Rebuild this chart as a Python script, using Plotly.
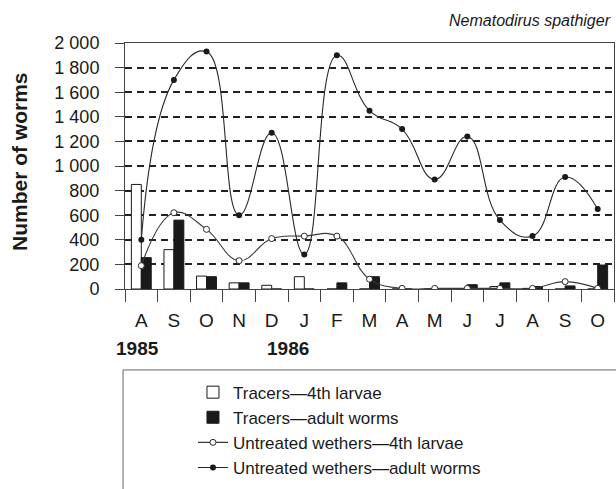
import plotly.graph_objects as go

categories = ["Aug 1985", "Sep 1985", "Oct 1985", "Nov 1985", "Dec 1985", "Jan 1986",
              "Feb 1986", "Mar 1986", "Apr 1986", "May 1986", "Jun 1986", "Jul 1986",
              "Aug 1986", "Sep 1986", "Oct 1986"]
month_labels = ["A", "S", "O", "N", "D", "J", "F", "M", "A", "M", "J", "J", "A", "S", "O"]

tracers_l4 = [850, 320, 105, 50, 30, 100, 0, 0, 0, 0, 0, 20, 5, 0, 0]
tracers_adult = [255, 560, 100, 50, 0, 0, 50, 100, 0, 0, 35, 50, 20, 25, 195]
untreated_l4 = [190, 620, 485, 230, 410, 430, 430, 80, 5, 5, 5, 5, 5, 60, 5]
untreated_adult = [400, 1700, 1930, 600, 1270, 280, 1900, 1450, 1300, 890, 1240, 560, 430, 910, 650]

y_ticks = [0, 200, 400, 600, 800, 1000, 1200, 1400, 1600, 1800, 2000]
y_tick_labels = ["0", "200", "400", "600", "800", "1 000", "1 200", "1 400", "1 600", "1 800", "2 000"]

years = ["1985", "1986"]
year_pos = [-0.13, 4.5]

FONT = "Liberation Sans, Arial, sans-serif"
INK = "#1a1a1a"

fig = go.Figure()
fig.add_trace(go.Bar(x=categories, y=tracers_l4, name="Tracers\u20144th larvae",
                     marker=dict(color="white", line=dict(color=INK, width=1))))
fig.add_trace(go.Bar(x=categories, y=tracers_adult, name="Tracers\u2014adult worms",
                     marker=dict(color=INK, line=dict(color=INK, width=1))))
fig.add_trace(go.Scatter(x=categories, y=untreated_l4, name="Untreated wethers\u20144th larvae",
                         mode="lines+markers",
                         line=dict(color="#3a3a3a", width=1.1, shape="spline", smoothing=1.2),
                         marker=dict(symbol="circle", size=6, color="white",
                                     line=dict(color="#2a2a2a", width=1))))
fig.add_trace(go.Scatter(x=categories, y=untreated_adult, name="Untreated wethers\u2014adult worms",
                         mode="lines+markers",
                         line=dict(color="#2a2a2a", width=1.1, shape="spline", smoothing=1.3),
                         marker=dict(symbol="circle", size=6, color=INK)))

annotations = [
    dict(text="<i>Nematodirus spathiger</i>", xref="paper", yref="paper", x=0.997, y=1.093,
         xanchor="right", yanchor="middle", showarrow=False, font=dict(size=16, color=INK, family=FONT)),
    dict(text="<b>Number of worms</b>", xref="paper", yref="paper", x=-0.217, y=0.52,
         xanchor="center", yanchor="middle", textangle=-90, showarrow=False,
         font=dict(size=21, color=INK, family=FONT)),
]
for yr, xp in zip(years, year_pos):
    annotations.append(dict(text="<b>%s</b>" % yr, xref="x", yref="paper", x=xp, y=-0.24,
                            xanchor="center", yanchor="middle", showarrow=False,
                            font=dict(size=19, color=INK, family=FONT)))

fig.update_layout(
    width=616, height=489,
    margin=dict(l=125, r=2, t=43, b=200, autoexpand=False),
    paper_bgcolor="white", plot_bgcolor="white",
    font=dict(family=FONT, color=INK),
    barmode="group", bargap=0.39, bargroupgap=0,
    showlegend=True,
    legend=dict(x=0.139, y=-0.348, xanchor="left", yanchor="top",
                font=dict(size=17, color=INK, family=FONT),
                bgcolor="rgba(0,0,0,0)", itemwidth=30, tracegroupgap=0),
    annotations=annotations,
    shapes=[dict(type="rect", xref="paper", yref="paper", x0=-0.004, x1=1.2, y0=-1.5, y1=-0.329,
                 line=dict(color="#666", width=1), fillcolor="rgba(0,0,0,0)", layer="below")],
)
fig.update_xaxes(type="category", categoryorder="array", categoryarray=categories,
                 tickmode="array", tickvals=categories, ticktext=month_labels,
                 tickson="boundaries", ticks="outside", ticklen=12, tickcolor="#444", tickwidth=1,
                 showline=True, linecolor="#444", linewidth=1, mirror=True,
                 showgrid=False, tickfont=dict(size=19, color=INK), ticklabelstandoff=14,
                 range=[-0.5, 14.5])
fig.update_yaxes(range=[0, 2000], tickmode="array", tickvals=y_ticks, ticktext=y_tick_labels,
                 ticks="outside", ticklen=9, tickcolor="#444", tickwidth=1,
                 showline=True, linecolor="#444", linewidth=1, mirror=True,
                 showgrid=True, gridcolor="#222", gridwidth=1.6, griddash="7px,5px",
                 zeroline=False, tickfont=dict(size=18, color=INK), ticklabelstandoff=12)

fig.write_html("out.html", config={"displayModeBar": False},
               post_script="document.body.style.margin='0';")
